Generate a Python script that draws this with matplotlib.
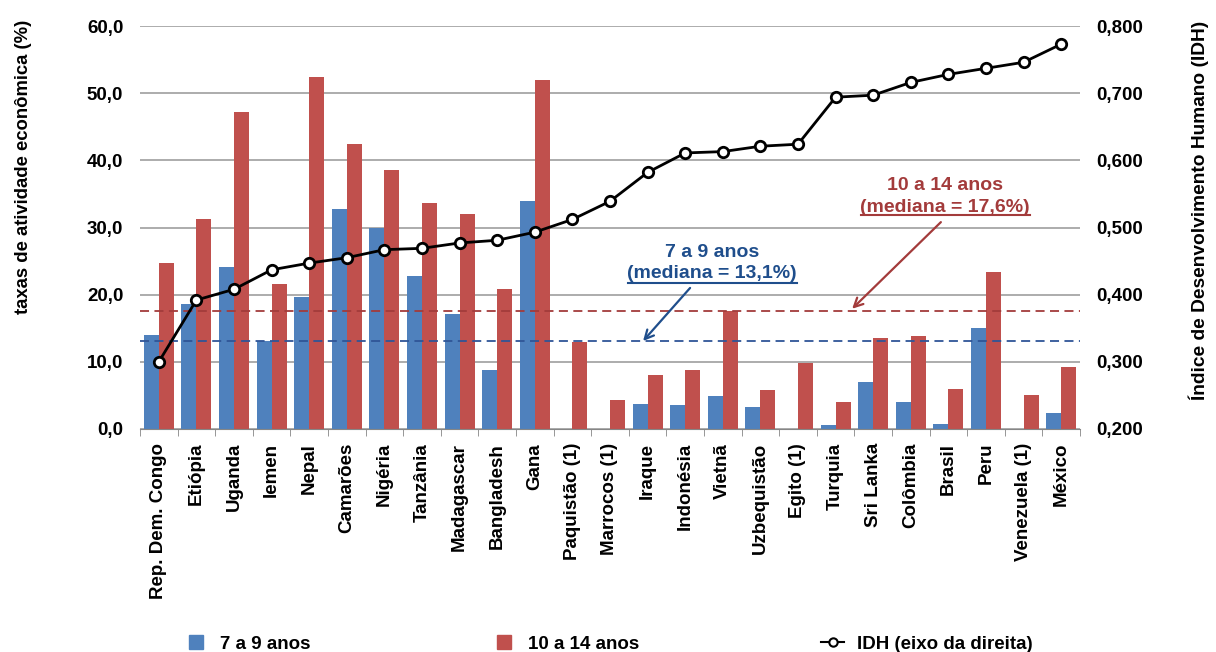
import numpy as np
import matplotlib.pyplot as plt
from matplotlib.ticker import FixedLocator, FuncFormatter
from matplotlib.lines import Line2D

plt.rcParams['font.family'] = ['Liberation Sans', 'DejaVu Sans']
plt.rcParams['font.weight'] = 'bold'

# dados
paises = ["Rep. Dem. Congo", "Etiópia", "Uganda", "Iemen", "Nepal", "Camarões",
          "Nigéria", "Tanzânia", "Madagascar", "Bangladesh", "Gana", "Paquistão (1)",
          "Marrocos (1)", "Iraque", "Indonésia", "Vietnã", "Uzbequistão", "Egito (1)",
          "Turquia", "Sri Lanka", "Colômbia", "Brasil", "Peru", "Venezuela (1)", "México"]
taxa_7_9 = [14.0, 18.6, 24.1, 13.1, 19.6, 32.7, 29.9, 22.8, 17.1, 8.8, 33.9, 0.0,
            0.0, 3.7, 3.6, 4.9, 3.3, 0.0, 0.6, 7.0, 4.0, 0.7, 15.0, 0.0, 2.4]
taxa_10_14 = [24.7, 31.3, 47.2, 21.6, 52.4, 42.4, 38.5, 33.6, 32.0, 20.8, 51.9, 12.9,
              4.3, 8.0, 8.8, 17.6, 5.8, 9.8, 4.0, 13.5, 13.9, 5.9, 23.4, 5.1, 9.2]
idh = [0.300, 0.392, 0.408, 0.437, 0.447, 0.455, 0.467, 0.469, 0.477, 0.481, 0.493, 0.512,
       0.539, 0.582, 0.611, 0.613, 0.621, 0.624, 0.694, 0.697, 0.716, 0.728, 0.737, 0.746, 0.773]
mediana_7_9 = 13.1
mediana_10_14 = 17.6

AZUL = "#4F81BD"
VERMELHO = "#C0504D"
AZUL_ESC = "#1F4E8C"
VERM_ESC = "#A33B3B"
FS = 13.5

n = len(paises)
x = np.arange(n)
w = 0.4

fig = plt.figure(figsize=(12.16, 6.52), dpi=100)
ax = fig.add_axes([140 / 1216, 223 / 652, 940 / 1216, 403 / 652])

ax.bar(x - w / 2, taxa_7_9, w, color=AZUL, zorder=2)
ax.bar(x + w / 2, taxa_10_14, w, color=VERMELHO, zorder=2)

ax.set_xlim(-0.5, n - 0.5)
ax.set_ylim(0, 60)
ax.set_yticks(np.arange(0, 61, 10))
ax.yaxis.set_major_formatter(FuncFormatter(lambda v, p: f"{v:.1f}".replace('.', ',')))
ax.grid(axis='y', color='#A6A6A6', linewidth=1.3, zorder=0)
ax.set_axisbelow(True)

ax.set_xticks(x)
ax.set_xticklabels(paises, rotation=90, fontsize=FS, fontweight='bold')
ax.xaxis.set_minor_locator(FixedLocator(np.arange(-0.5, n, 1)))
ax.tick_params(axis='x', which='major', length=0, pad=10)
ax.tick_params(axis='x', which='minor', length=5, color='#868686')
ax.tick_params(axis='y', length=0, labelsize=FS, pad=12)
for s in ['top', 'left', 'right']:
    ax.spines[s].set_visible(False)
ax.spines['bottom'].set_color('#868686')

# linhas de mediana
ax.axhline(mediana_10_14, color=VERM_ESC, linestyle=(0, (5, 3)), linewidth=1.3, zorder=3)
ax.axhline(mediana_7_9, color='#2F5597', linestyle=(0, (5, 3)), linewidth=1.3, zorder=3)

# anotações
ax.text(14.71, 26.3, "7 a 9 anos", ha='center', va='center', color=AZUL_ESC,
        fontsize=14, fontweight='bold', zorder=6)
ax.text(14.71, 23.2, "(mediana = 13,1%)", ha='center', va='center', color=AZUL_ESC,
        fontsize=14, fontweight='bold', zorder=6)
ax.plot([12.48, 16.97], [21.7, 21.7], color=AZUL_ESC, lw=1.5, zorder=6)
ax.annotate("", xy=(12.88, 13.1), xytext=(14.13, 21.0),
            arrowprops=dict(arrowstyle='->', color=AZUL_ESC, lw=1.6,
                            shrinkA=0, shrinkB=0, mutation_scale=16), zorder=6)

ax.text(20.91, 36.3, "10 a 14 anos", ha='center', va='center', color=VERM_ESC,
        fontsize=14, fontweight='bold', zorder=6)
ax.text(20.91, 33.0, "(mediana = 17,6%)", ha='center', va='center', color=VERM_ESC,
        fontsize=14, fontweight='bold', zorder=6)
ax.plot([18.68, 23.17], [31.85, 31.85], color=VERM_ESC, lw=1.5, zorder=6)
ax.annotate("", xy=(18.44, 17.9), xytext=(20.80, 30.8),
            arrowprops=dict(arrowstyle='->', color=VERM_ESC, lw=1.6,
                            shrinkA=0, shrinkB=0, mutation_scale=16), zorder=6)

# eixo da direita
ax2 = ax.twinx()
ax2.plot(x, idh, color='black', linewidth=2.0, marker='o', markersize=7.5,
         markerfacecolor='white', markeredgecolor='black', markeredgewidth=2, zorder=5)
ax2.set_ylim(0.2, 0.8)
ax2.set_yticks(np.arange(0.2, 0.81, 0.1))
ax2.yaxis.set_major_formatter(FuncFormatter(lambda v, p: f"{v:.3f}".replace('.', ',')))
ax2.tick_params(axis='y', length=0, labelsize=FS, pad=12)
for s in ['top', 'left', 'right', 'bottom']:
    ax2.spines[s].set_visible(False)

fig.text(24 / 1216, 1 - 167 / 652, "taxas de atividade econômica (%)", rotation=90,
         ha='center', va='center', fontsize=13.3, fontweight='bold')
fig.text(1199 / 1216, 1 - 210 / 652, "Índice de Desenvolvimento Humano (IDH)", rotation=90,
         ha='center', va='center', fontsize=13.8, fontweight='bold')

handles = [Line2D([], [], color=AZUL, marker='s', markersize=10, linestyle='none'),
           Line2D([], [], color=VERMELHO, marker='s', markersize=10, linestyle='none'),
           Line2D([], [], color='black', marker='o', markerfacecolor='white', markersize=6,
                  markeredgewidth=1.5, linewidth=1.5)]
fig.legend(handles, ["7 a 9 anos", "10 a 14 anos", "IDH (eixo da direita)"],
           loc='center left', bbox_to_anchor=(177 / 1216, 1 - 644 / 652), ncol=3,
           frameon=False, prop={'weight': 'bold', 'size': FS}, columnspacing=9.7,
           handlelength=1.2, handletextpad=0.7, borderaxespad=0)

fig.savefig("out.png", dpi=100)
